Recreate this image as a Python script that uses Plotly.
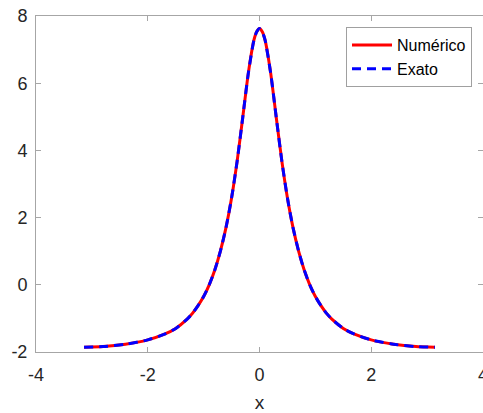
import plotly.graph_objects as go

# Values
x_vals = [-3.14, -2.8, -2.4, -2.0, -1.7, -1.5, -1.3, -1.2, -1.1, -1.0, -0.9, -0.8, -0.7, -0.6,
          -0.5, -0.4, -0.3, -0.2, -0.1, -0.05, 0.0,
          0.05, 0.1, 0.2, 0.3, 0.4, 0.5, 0.6, 0.7, 0.8, 0.9, 1.0, 1.1, 1.2, 1.3, 1.5, 1.7,
          2.0, 2.4, 2.8, 3.14]
y_numerico = [-1.86, -1.84, -1.77, -1.64, -1.47, -1.3, -1.03, -0.85, -0.62, -0.35, 0.0, 0.44, 1.0, 1.7,
              2.58, 3.68, 4.98, 6.3, 7.28, 7.53, 7.63,
              7.53, 7.28, 6.3, 4.98, 3.68, 2.58, 1.7, 1.0, 0.44, 0.0, -0.35, -0.62, -0.85, -1.03, -1.3, -1.47,
              -1.64, -1.77, -1.84, -1.86]
y_exato = list(y_numerico)

x_ticks = [-4, -2, 0, 2, 4]
y_ticks = [-2, 0, 2, 4, 6, 8]

font_family = "Liberation Sans, Arial, sans-serif"
txt_col = "#262626"
ax_col = "#a6a6a6"

fig = go.Figure()
fig.add_trace(go.Scatter(x=x_vals, y=y_numerico, mode="lines", name="Numérico",
                         line=dict(color="#ff0000", width=3, shape="spline", smoothing=0.6)))
fig.add_trace(go.Scatter(x=x_vals, y=y_exato, mode="lines", name="Exato",
                         line=dict(color="#0000ff", width=3, dash="9px,6px", shape="spline", smoothing=0.6)))

axis_common = dict(showgrid=False, zeroline=False, showline=True, linecolor=ax_col, linewidth=1,
                   mirror="ticks", ticks="inside", ticklen=5, tickcolor=ax_col, automargin=False,
                   ticklabeloverflow="allow",
                   tickfont=dict(family=font_family, size=18, color=txt_col))

fig.update_layout(
    width=483, height=413,
    margin=dict(l=36, r=0, t=16, b=61),
    paper_bgcolor="white", plot_bgcolor="white",
    showlegend=True,
    legend=dict(x=0.9754, y=0.967, xanchor="right", yanchor="top",
                bgcolor="white", bordercolor="#a0a0a0", borderwidth=1,
                font=dict(family=font_family, size=16, color="#000000"),
                tracegroupgap=0, itemwidth=40, entrywidth=130, entrywidthmode="pixels"),
    xaxis=dict(range=[-4, 4], tickvals=x_ticks, ticktext=[str(v) for v in x_ticks],
               ticklabelstandoff=6,
               title=dict(text="x", font=dict(family=font_family, size=19, color=txt_col), standoff=18),
               **axis_common),
    yaxis=dict(range=[-2, 8], tickvals=y_ticks, ticktext=[str(v) for v in y_ticks],
               ticklabelstandoff=4,
               **axis_common),
)

fig.write_html("out.html", config={"displayModeBar": False},
               post_script="document.body.style.margin='0';document.body.style.overflow='hidden';")
